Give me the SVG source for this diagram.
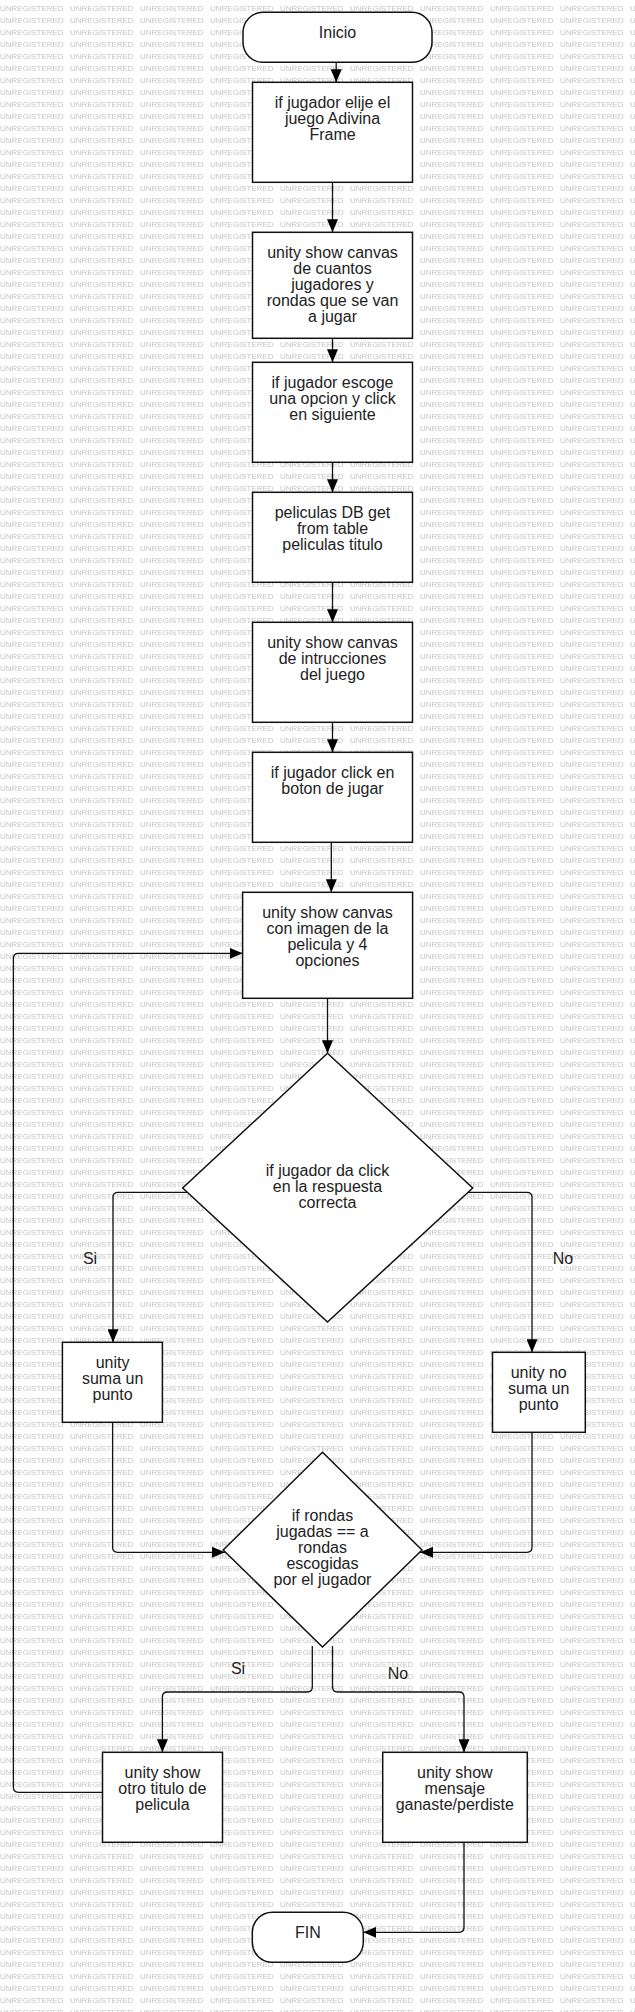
<svg xmlns="http://www.w3.org/2000/svg" width="635" height="2012" viewBox="0 0 635 2012">
<defs>
  <pattern id="wm" patternUnits="userSpaceOnUse" x="0" y="0" width="70" height="12">
    <text class="wm" x="0" y="11.2">UNREGISTERED</text>
  </pattern>
  <marker id="arr" markerWidth="13" markerHeight="11" refX="13" refY="5.5" orient="auto" markerUnits="userSpaceOnUse">
    <path d="M0,0 L13,5.5 L0,11 Z" fill="#000"/>
  </marker>
</defs>
<style>
  .wm{font-family:"Liberation Sans",Arial,sans-serif;font-size:8px;fill:#c4c4c4}
  .n{fill:#fff;stroke:#111;stroke-width:1.5}
  .t{font-family:"Liberation Sans",Arial,sans-serif;font-size:16px;fill:#222;text-anchor:middle}
  .c{fill:none;stroke:#111;stroke-width:1.3}
  .a{marker-end:url(#arr)}
</style>
<rect width="635" height="2012" fill="#fff"/>
<rect width="635" height="2012" fill="url(#wm)"/>

<g id="connectors">
  <path class="c a" d="M336.2,62.3 V82.3"/>
  <path class="c a" d="M332.5,182.3 V232.3"/>
  <path class="c a" d="M332.5,338.3 V362.3"/>
  <path class="c a" d="M332.5,462.3 V492.3"/>
  <path class="c a" d="M332.5,582.3 V622.3"/>
  <path class="c a" d="M332.5,722.3 V752.3"/>
  <path class="c a" d="M331.3,842.3 V892.3"/>
  <path class="c a" d="M327.5,998.3 V1053.3"/>
  <path class="c a" d="M187,1192.3 H118 Q113,1192.3 113,1197.3 V1342.3"/>
  <path class="c a" d="M468,1192.3 H527 Q532,1192.3 532,1197.3 V1352.3"/>
  <path class="c a" d="M112.6,1422.3 V1547.3 Q112.6,1552.3 117.6,1552.3 H225"/>
  <path class="c a" d="M532,1432.3 V1547.3 Q532,1552.3 527,1552.3 H420"/>
  <path class="c a" d="M312.3,1646 V1687 Q312.3,1692 307.3,1692 H167.4 Q162.4,1692 162.4,1697 V1752.3"/>
  <path class="c a" d="M332.5,1646 V1687 Q332.5,1692 337.5,1692 H459 Q464,1692 464,1697 V1752.3"/>
  <path class="c a" d="M464,1842.3 V1927.3 Q464,1932.3 459,1932.3 H363.3"/>
  <path class="c a" d="M102.5,1792.3 H18.4 Q13.4,1792.3 13.4,1787.3 V958.3 Q13.4,953.3 18.4,953.3 H242.6"/>
  <text class="t" x="90" y="1264">Si</text>
  <text class="t" x="563" y="1264">No</text>
  <text class="t" x="238" y="1673.5">Si</text>
  <text class="t" x="398" y="1678.5">No</text>
</g>

<g id="inicio">
  <rect class="n" x="243" y="12.3" width="189" height="50" rx="20" ry="20"/>
  <text class="t" x="337.5" y="37.8">Inicio</text>
</g>
<g id="elige-juego">
  <rect class="n" x="252.5" y="82.3" width="160" height="100"/>
  <text class="t" x="332.5" y="107.8">if jugador elije el</text>
  <text class="t" x="332.5" y="123.8">juego Adivina</text>
  <text class="t" x="332.5" y="139.8">Frame</text>
</g>
<g id="canvas-jugadores">
  <rect class="n" x="252.5" y="232.3" width="160" height="106"/>
  <text class="t" x="332.5" y="257.8">unity show canvas</text>
  <text class="t" x="332.5" y="273.8">de cuantos</text>
  <text class="t" x="332.5" y="289.8">jugadores y</text>
  <text class="t" x="332.5" y="305.8">rondas que se van</text>
  <text class="t" x="332.5" y="321.8">a jugar</text>
</g>
<g id="escoge-opcion">
  <rect class="n" x="252.5" y="362.3" width="160" height="100"/>
  <text class="t" x="332.5" y="387.8">if jugador escoge</text>
  <text class="t" x="332.5" y="403.8">una opcion y click</text>
  <text class="t" x="332.5" y="419.8">en siguiente</text>
</g>
<g id="db-peliculas">
  <rect class="n" x="252.5" y="492.3" width="160" height="90"/>
  <text class="t" x="332.5" y="517.8">peliculas DB get</text>
  <text class="t" x="332.5" y="533.8">from table</text>
  <text class="t" x="332.5" y="549.8">peliculas titulo</text>
</g>
<g id="canvas-instrucciones">
  <rect class="n" x="252.5" y="622.3" width="160" height="100"/>
  <text class="t" x="332.5" y="647.8">unity show canvas</text>
  <text class="t" x="332.5" y="663.8">de intrucciones</text>
  <text class="t" x="332.5" y="679.8">del juego</text>
</g>
<g id="click-jugar">
  <rect class="n" x="252.5" y="752.3" width="160" height="90"/>
  <text class="t" x="332.5" y="777.8">if jugador click en</text>
  <text class="t" x="332.5" y="793.8">boton de jugar</text>
</g>
<g id="canvas-imagen">
  <rect class="n" x="242.6" y="892.3" width="170" height="106"/>
  <text class="t" x="327.5" y="917.8">unity show canvas</text>
  <text class="t" x="327.5" y="933.8">con imagen de la</text>
  <text class="t" x="327.5" y="949.8">pelicula y 4</text>
  <text class="t" x="327.5" y="965.8">opciones</text>
</g>
<g id="respuesta-correcta">
  <polygon class="n" points="327.5,1053.3 472.7,1188 327.5,1322 182.7,1188"/>
  <text class="t" x="327.5" y="1175.5">if jugador da click</text>
  <text class="t" x="327.5" y="1191.5">en la respuesta</text>
  <text class="t" x="327.5" y="1207.5">correcta</text>
</g>
<g id="suma-punto">
  <rect class="n" x="62.4" y="1342.3" width="100" height="80"/>
  <text class="t" x="112.6" y="1367.8">unity</text>
  <text class="t" x="112.6" y="1383.8">suma un</text>
  <text class="t" x="112.6" y="1399.8">punto</text>
</g>
<g id="no-suma-punto">
  <rect class="n" x="492.5" y="1352.3" width="92.8" height="80"/>
  <text class="t" x="538.7" y="1377.8">unity no</text>
  <text class="t" x="538.7" y="1393.8">suma un</text>
  <text class="t" x="538.7" y="1409.8">punto</text>
</g>
<g id="rondas-jugadas">
  <polygon class="n" points="322.5,1452.3 422,1550 322.5,1647 223.2,1550"/>
  <text class="t" x="322.5" y="1521.2">if rondas</text>
  <text class="t" x="322.5" y="1537.2">jugadas == a</text>
  <text class="t" x="322.5" y="1553.2">rondas</text>
  <text class="t" x="322.5" y="1569.2">escogidas</text>
  <text class="t" x="322.5" y="1585.2">por el jugador</text>
</g>
<g id="otro-titulo">
  <rect class="n" x="102.5" y="1752.3" width="120" height="90"/>
  <text class="t" x="162.4" y="1777.8">unity show</text>
  <text class="t" x="162.4" y="1793.8">otro titulo de</text>
  <text class="t" x="162.4" y="1809.8">pelicula</text>
</g>
<g id="mensaje-final">
  <rect class="n" x="382.7" y="1752.3" width="144.6" height="90"/>
  <text class="t" x="454.8" y="1777.8">unity show</text>
  <text class="t" x="454.8" y="1793.8">mensaje</text>
  <text class="t" x="454.8" y="1809.8">ganaste/perdiste</text>
</g>
<g id="fin">
  <rect class="n" x="252.3" y="1912.3" width="111" height="50" rx="20" ry="20"/>
  <text class="t" x="307.8" y="1937.7">FIN</text>
</g>
</svg>
